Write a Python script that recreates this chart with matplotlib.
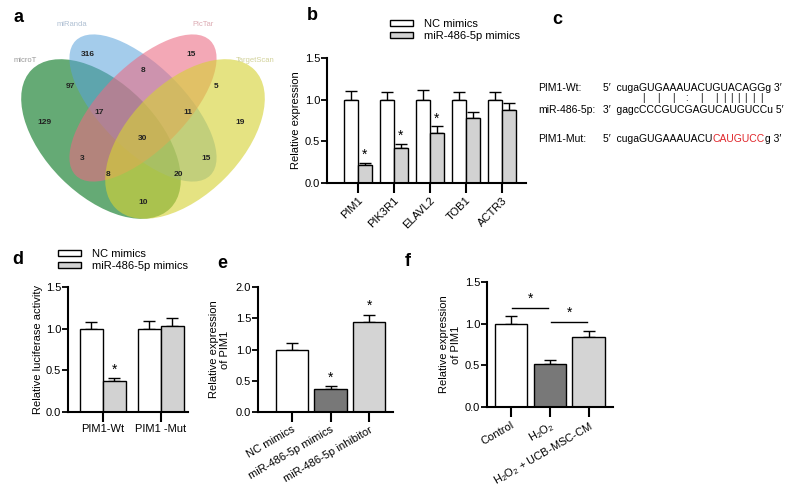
import matplotlib
matplotlib.use('Agg')
import matplotlib.pyplot as plt
from matplotlib.patches import Ellipse, Patch

plt.rcParams['font.family'] = ['Liberation Sans', 'DejaVu Sans']
plt.rcParams['font.size'] = 8
plt.rcParams['mathtext.fontset'] = 'custom'
plt.rcParams['mathtext.rm'] = 'Liberation Sans'

W, H = 800, 495

# a: Venn diagram
venn_sets = ['microT', 'miRanda', 'PicTar', 'TargetScan']
venn_counts = [316, 15, 8, 97, 5, 17, 11, 129, 19, 30, 3, 15, 8, 20, 10]

# b: qPCR of candidate targets
b_genes = ['PIM1', 'PIK3R1', 'ELAVL2', 'TOB1', 'ACTR3']
b_nc = [1.0, 1.0, 1.0, 1.0, 1.0]
b_nc_err = [0.10, 0.09, 0.11, 0.09, 0.09]
b_mim = [0.21, 0.42, 0.60, 0.78, 0.87]
b_mim_err = [0.035, 0.05, 0.08, 0.07, 0.085]
b_sig = [True, True, True, False, False]
groups_bd = ['NC mimics', 'miR-486-5p mimics']

# c: binding site
seq_names = ['PIM1-Wt:', 'miR-486-5p:', 'PIM1-Mut:']
wt_head = "5\u2032  cuga"
wt_core = 'GUGAAAUACUGUACAGG'
wt_tail = "g 3\u2032"
pairing = '|.|.|.:.|.|||||||'
mir_seq = "3\u2032  gagcCCCGUCGAGUCAUGUCCu 5\u2032"
mut_parts = ["5\u2032  cugaGUGAAAUACU", "CAUGUCC", "g 3\u2032"]

# d: luciferase
d_labels = ['PIM1-Wt', 'PIM1 -Mut']
d_nc = [1.0, 1.0]
d_nc_err = [0.08, 0.09]
d_mim = [0.37, 1.03]
d_mim_err = [0.04, 0.10]
d_sig = [True, False]

# e: PIM1 expression
e_labels = ['NC mimics', 'miR-486-5p mimics', 'miR-486-5p inhibitor']
e_vals = [1.0, 0.37, 1.44]
e_err = [0.10, 0.05, 0.12]
e_sig = [False, True, True]

# f: PIM1 expression with H2O2
f_labels = ['Control', 'H$_2$O$_2$', 'H$_2$O$_2$ + UCB-MSC-CM']
f_vals = [1.0, 0.52, 0.84]
f_err = [0.09, 0.05, 0.07]


def px(l, t, r, b):
    return [l / W, 1 - b / H, (r - l) / W, (b - t) / H]


def style(ax, ymax, yticks):
    ax.spines[['top', 'right']].set_visible(False)
    for s in ['left', 'bottom']:
        ax.spines[s].set_linewidth(1.5)
    ax.set_ylim(0, ymax)
    ax.set_yticks(yticks)
    ax.set_yticklabels([f'{v:.1f}' for v in yticks])
    ax.tick_params(axis='y', direction='out', length=4, width=1.3, pad=1)
    ax.tick_params(axis='x', direction='out', length=7, width=1.5, pad=2)


def errs(ax, x, vals, err):
    ax.errorbar(x, vals, yerr=[[0] * len(vals), err], fmt='none', ecolor='black',
                elinewidth=1, capsize=4, capthick=1, zorder=1)


fig = plt.figure(figsize=(8, 4.95), dpi=100)
renderer = fig.canvas.get_renderer()

ov = fig.add_axes([0, 0, 1, 1])
ov.set_xlim(0, W)
ov.set_ylim(H, 0)
ov.axis('off')
ov.patch.set_visible(False)

# panel letters
for lab, (x, y) in zip('abcdef', [(18, 18), (312, 16), (557, 20), (18, 260), (222, 264), (408, 261)]):
    ov.text(x, y, lab, fontsize=13, fontweight='bold', ha='center', va='center')

# ---- a
ax_a = fig.add_axes(px(0, 0, 290, 250))
ax_a.set_xlim(0, 290)
ax_a.set_ylim(250, 0)
ax_a.axis('off')
u = 280
cx = 143
ell = [((cx - 0.15 * u, 139), 0.70 * u, 0.40 * u, 45, '#2a8a40', 0.72),
       ((cx, 108), 0.68 * u, 0.30 * u, 45, '#5aa2dc', 0.55),
       ((cx, 108), 0.68 * u, 0.30 * u, -45, '#ec6a82', 0.58),
       ((cx + 0.15 * u, 139), 0.70 * u, 0.40 * u, -45, '#d6d236', 0.62)]
for c, w, h, ang, col, al in ell:
    ax_a.add_patch(Ellipse(c, w, h, angle=ang, facecolor=col, alpha=al, edgecolor='none'))
venn_pos = [(88, 54), (191, 54), (143, 70), (70, 86), (216, 86), (99, 112), (188, 112),
            (44, 123), (240, 123), (143, 138), (82, 159), (206, 159), (108, 175),
            (178, 175), (143, 202)]
for (x, y), n in zip(venn_pos, venn_counts):
    ax_a.text(x, y, str(n), fontsize=6, fontweight='bold', ha='center', va='center', color='#222222')
set_pos = [(25, 60), (72, 25), (203, 25), (255, 60)]
set_col = ['#9a9a9a', '#aebfd2', '#dcaab2', '#d2d29a']
for (x, y), s, c in zip(set_pos, venn_sets, set_col):
    ax_a.text(x, y, s, fontsize=5.5, ha='center', va='center', color=c)

# ---- b
ax_b = fig.add_axes(px(327, 58, 526, 183))
xb = list(range(len(b_genes)))
wb = 0.39
xb0 = [x - wb / 2 for x in xb]
xb1 = [x + wb / 2 for x in xb]
ax_b.bar(xb0, b_nc, width=wb, color='white', edgecolor='black', linewidth=1, zorder=2)
ax_b.bar(xb1, b_mim, width=wb, color='#d2d2d2', edgecolor='black', linewidth=1, zorder=2)
errs(ax_b, xb0, b_nc, b_nc_err)
errs(ax_b, xb1, b_mim, b_mim_err)
for x, v, e, s in zip(xb1, b_mim, b_mim_err, b_sig):
    if s:
        ax_b.text(x, v + e + 0.01, '*', ha='center', va='bottom', fontsize=10)
style(ax_b, 1.5, [0, 0.5, 1.0, 1.5])
ax_b.set_xlim(-0.86, 4.67)
ax_b.set_xticks(xb)
ax_b.set_xticklabels(b_genes, rotation=45, ha='right', va='top', rotation_mode='anchor')
ax_b.set_ylabel('Relative expression', labelpad=3)
ax_b.legend([Patch(facecolor='white', edgecolor='black'), Patch(facecolor='#d2d2d2', edgecolor='black')],
            groups_bd, loc='upper left', bbox_to_anchor=(390, 19), bbox_transform=ov.transData,
            frameon=False, borderpad=0, borderaxespad=0, handlelength=2.1, handleheight=0.45,
            handletextpad=1.0, labelspacing=0.15)

# ---- c
fs_c = 7.5
x_seq = 603
ys = [91, 113, 142]
for name, y in zip(seq_names, ys):
    ov.text(538, y, name, va='baseline', ha='left', fontsize=fs_c)
ov.text(x_seq, ys[0], wt_head + wt_core + wt_tail, va='baseline', ha='left', fontsize=fs_c)


def text_width(s):
    tmp = ov.text(0, 0, s, fontsize=fs_c)
    w = tmp.get_window_extent(renderer).width
    tmp.remove()
    return w


for i, p in enumerate(pairing):
    if p == '.':
        continue
    w0 = text_width(wt_head + wt_core[:i])
    w1 = text_width(wt_head + wt_core[:i + 1])
    ov.text(x_seq + (w0 + w1) / 2, 98, p, ha='center', va='center', fontsize=7)
ov.text(x_seq, ys[1], mir_seq, va='baseline', ha='left', fontsize=fs_c)
t = ov.text(x_seq, ys[2], mut_parts[0], va='baseline', ha='left', fontsize=fs_c)
t = ov.annotate(mut_parts[1], xy=(1, 0), xycoords=t, va='bottom', ha='left', color='#e0262b', fontsize=fs_c)
ov.annotate(mut_parts[2], xy=(1, 0), xycoords=t, va='bottom', ha='left', fontsize=fs_c)

# ---- d
ax_d = fig.add_axes(px(68, 287, 188, 412))
xd = list(range(len(d_labels)))
wd = 0.40
xd0 = [x - wd / 2 for x in xd]
xd1 = [x + wd / 2 for x in xd]
ax_d.bar(xd0, d_nc, width=wd, color='white', edgecolor='black', linewidth=1, zorder=2)
ax_d.bar(xd1, d_mim, width=wd, color='#d2d2d2', edgecolor='black', linewidth=1, zorder=2)
errs(ax_d, xd0, d_nc, d_nc_err)
errs(ax_d, xd1, d_mim, d_mim_err)
for x, v, e, s in zip(xd1, d_mim, d_mim_err, d_sig):
    if s:
        ax_d.text(x, v + e + 0.01, '*', ha='center', va='bottom', fontsize=10)
style(ax_d, 1.5, [0, 0.5, 1.0, 1.5])
ax_d.set_xlim(-0.6, 1.47)
ax_d.set_xticks(xd)
ax_d.set_xticklabels(d_labels)
ax_d.set_ylabel('Relative luciferase activity', labelpad=2)
ax_d.legend([Patch(facecolor='white', edgecolor='black'), Patch(facecolor='#d2d2d2', edgecolor='black')],
            groups_bd, loc='upper left', bbox_to_anchor=(58, 249), bbox_transform=ov.transData,
            frameon=False, borderpad=0, borderaxespad=0, handlelength=2.1, handleheight=0.45,
            handletextpad=1.0, labelspacing=0.15)

# ---- e
ax_e = fig.add_axes(px(258, 287, 393, 412))
xe = list(range(len(e_labels)))
ax_e.bar(xe, e_vals, width=0.84, color=['white', '#787878', '#d4d4d4'], edgecolor='black',
         linewidth=1, zorder=2)
errs(ax_e, xe, e_vals, e_err)
for x, v, e, s in zip(xe, e_vals, e_err, e_sig):
    if s:
        ax_e.text(x, v + e + 0.02, '*', ha='center', va='bottom', fontsize=10)
style(ax_e, 2.0, [0, 0.5, 1.0, 1.5, 2.0])
ax_e.set_xlim(-0.88, 2.62)
ax_e.set_xticks(xe)
ax_e.set_xticklabels(e_labels, rotation=30, ha='right', va='top', rotation_mode='anchor')
ax_e.set_ylabel('Relative expression\nof PIM1', labelpad=4)

# ---- f
ax_f = fig.add_axes(px(487, 282, 613, 407))
xf = list(range(len(f_labels)))
ax_f.bar(xf, f_vals, width=0.83, color=['white', '#787878', '#d4d4d4'], edgecolor='black',
         linewidth=1, zorder=2)
errs(ax_f, xf, f_vals, f_err)
for (a, b), y in zip([(0, 1), (1, 2)], [1.19, 1.015]):
    ax_f.plot([a + 0.02, b - 0.05], [y, y], color='black', lw=1)
    ax_f.text((a + b) / 2, y + 0.03, '*', ha='center', va='bottom', fontsize=10)
style(ax_f, 1.5, [0, 0.5, 1.0, 1.5])
ax_f.set_xlim(-0.62, 2.63)
ax_f.set_xticks(xf)
ax_f.set_xticklabels(f_labels, rotation=30, ha='right', va='top', rotation_mode='anchor')
ax_f.set_ylabel('Relative expression\nof PIM1', labelpad=3)

fig.savefig('out.png', dpi=100)
